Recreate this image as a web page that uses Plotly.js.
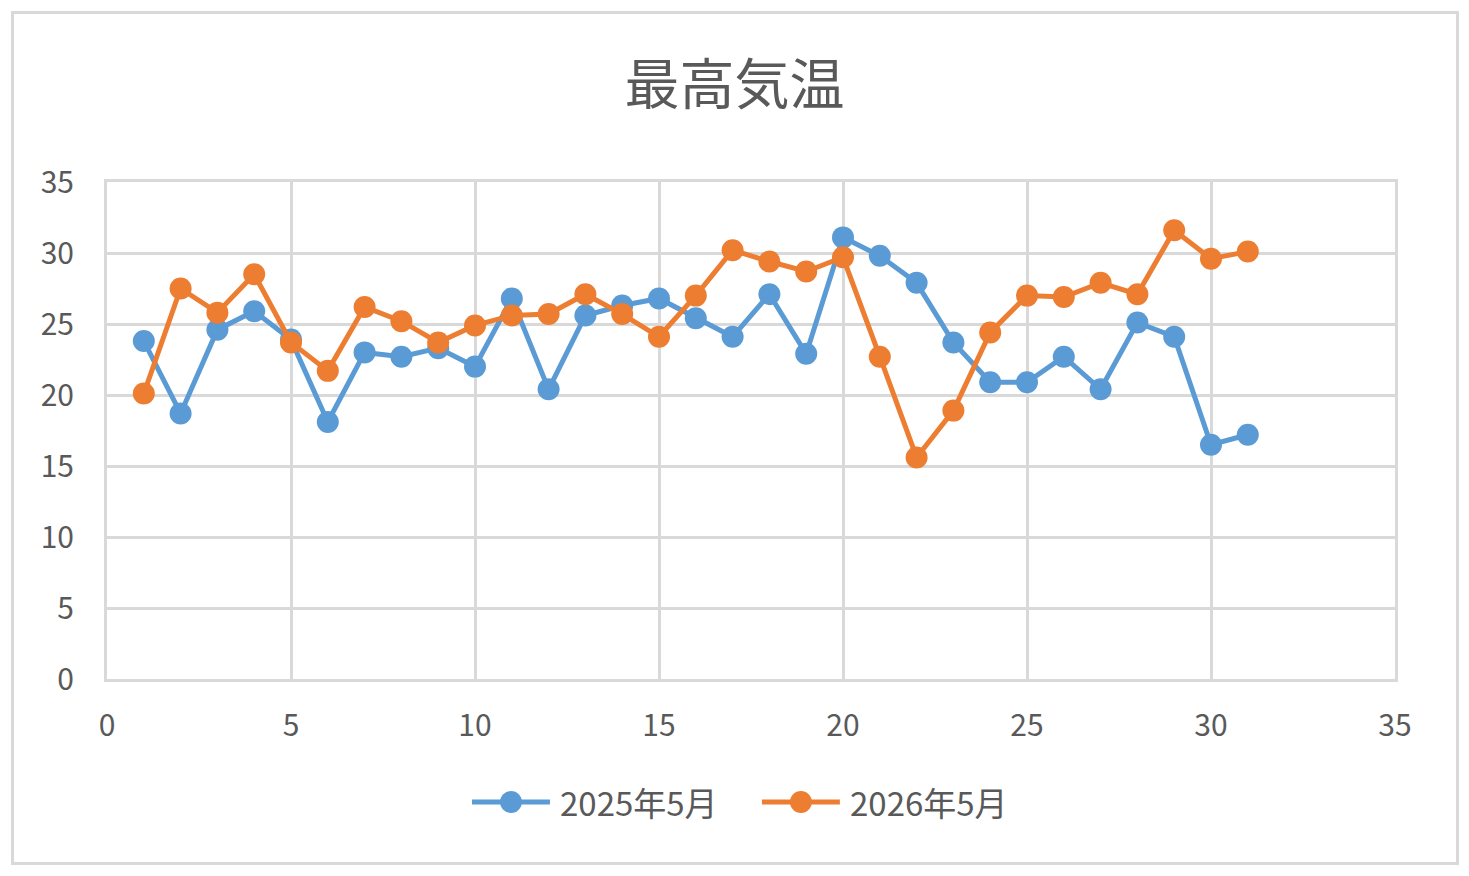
<!DOCTYPE html>
<html><head><meta charset="utf-8">
<script src="https://cdn.plot.ly/plotly-3.0.1.min.js"></script>
<style>
html,body{margin:0;padding:0;background:#fff;}
#wrap{position:relative;width:1469px;height:876px;}
#chart{width:1469px;height:876px;}
#frame{position:absolute;left:11px;top:11px;width:1442px;height:848px;border:3px solid #d9d9d9;pointer-events:none;}
</style>
</head><body>
<div id="wrap"><div id="chart"></div><div id="frame"></div></div>
<script>
const days = [1,2,3,4,5,6,7,8,9,10,11,12,13,14,15,16,17,18,19,20,21,22,23,24,25,26,27,28,29,30,31];
const temps2025 = [23.8,18.7,24.6,25.9,23.9,18.1,23.0,22.7,23.3,22.0,26.8,20.4,25.6,26.3,26.8,25.4,24.1,27.1,22.9,31.1,29.8,27.9,23.7,20.9,20.9,22.7,20.4,25.1,24.1,16.5,17.2];
const temps2026 = [20.1,27.5,25.8,28.5,23.7,21.7,26.2,25.2,23.7,24.9,25.6,25.7,27.1,25.7,24.1,27.0,30.2,29.4,28.7,29.7,22.7,15.6,18.9,24.4,27.0,26.9,27.9,27.1,31.6,29.6,30.1];
const seriesNames = ['2025年5月','2026年5月'];
const seriesColors = ['#5B9BD5','#ED7D31'];
const titleText = '最高気温';

const font = '"Noto Sans CJK JP", "Noto Sans", sans-serif';
const grey = '#595959';

const traces = [temps2025, temps2026].map((vals, i) => ({
  x: days, y: vals, name: seriesNames[i], type: 'scatter', mode: 'lines+markers', showlegend: false,
  line: {color: seriesColors[i], width: 5}, marker: {color: seriesColors[i], size: 22}
}));

// custom legend (Excel-style long line symbols), positioned in paper coordinates
const legY = -0.2475;
const legStarts = [0.2834, 0.5085];
const symLen = 0.0605, rx = 0.0085, ry = 0.0221, textGap = 0.0063;
const shapes = [], annotations = [];
legStarts.forEach((x0, i) => {
  const cx = x0 + symLen / 2;
  shapes.push({type: 'line', xref: 'paper', yref: 'paper', x0: x0, x1: x0 + symLen, y0: legY, y1: legY,
               line: {color: seriesColors[i], width: 5}});
  shapes.push({type: 'circle', xref: 'paper', yref: 'paper', x0: cx - rx, x1: cx + rx, y0: legY - ry, y1: legY + ry,
               fillcolor: seriesColors[i], line: {color: seriesColors[i], width: 0}});
  annotations.push({text: seriesNames[i], xref: 'paper', yref: 'paper', x: x0 + symLen + textGap, y: legY,
                    xanchor: 'left', yanchor: 'middle', showarrow: false,
                    font: {family: font, size: 33, color: grey}});
});

const layout = {
  width: 1469, height: 876,
  margin: {l: 107, r: 74, t: 182, b: 197},
  paper_bgcolor: '#fff', plot_bgcolor: '#fff',
  font: {family: font, color: grey, size: 30},
  title: {text: titleText, font: {family: font, size: 55, color: grey}, x: 0.5, xanchor: 'center', y: 0.903, yanchor: 'middle'},
  xaxis: {range: [0, 35], dtick: 5, tick0: 0, showgrid: true, gridcolor: '#d9d9d9', gridwidth: 3,
          zeroline: false, showline: true, linecolor: '#d9d9d9', linewidth: 3, mirror: true,
          ticks: '', tickfont: {size: 30, color: grey, family: font}, ticklabelstandoff: 18, fixedrange: true},
  yaxis: {range: [0, 35], dtick: 5, tick0: 0, showgrid: true, gridcolor: '#d9d9d9', gridwidth: 3,
          zeroline: false, showline: true, linecolor: '#d9d9d9', linewidth: 3, mirror: true,
          ticks: '', tickfont: {size: 30, color: grey, family: font}, ticklabelstandoff: 24, fixedrange: true},
  showlegend: false,
  shapes: shapes,
  annotations: annotations
};

Plotly.newPlot('chart', traces, layout, {displayModeBar: false, staticPlot: true});
</script>
</body></html>
